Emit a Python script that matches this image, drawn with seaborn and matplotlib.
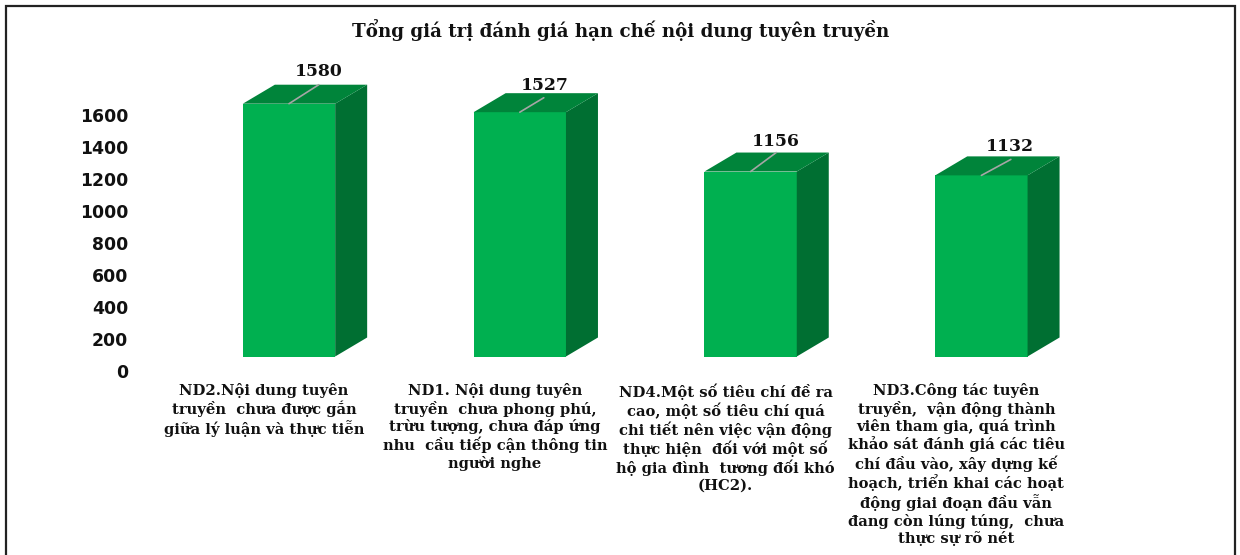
import matplotlib
matplotlib.use("Agg")
import matplotlib.pyplot as plt
from matplotlib.patches import Polygon, Rectangle
from matplotlib.transforms import ScaledTranslation
import seaborn as sns

categories = [
    "ND2.Nội dung tuyên\ntruyền  chưa được gắn\ngiữa lý luận và thực tiễn",
    "ND1. Nội dung tuyên\ntruyền  chưa phong phú,\ntrừu tượng, chưa đáp ứng\nnhu  cầu tiếp cận thông tin\nngười nghe",
    "ND4.Một số tiêu chí đề ra\ncao, một số tiêu chí quá\nchi tiết nên việc vận động\nthực hiện  đối với một số\nhộ gia đình  tương đối khó\n(HC2).",
    "ND3.Công tác tuyên\ntruyền,  vận động thành\nviên tham gia, quá trình\nkhảo sát đánh giá các tiêu\nchí đầu vào, xây dựng kế\nhoạch, triển khai các hoạt\nđộng giai đoạn đầu vẫn\nđang còn lúng túng,  chưa\nthực sự rõ nét",
]
values = [1580, 1527, 1156, 1132]
y_ticks = [0, 200, 400, 600, 800, 1000, 1200, 1400, 1600]
title = "Tổng giá trị đánh giá hạn chế nội dung tuyên truyền"

W, H = 1240, 555
FRONT, TOP, SIDE = "#00B050", "#00843A", "#006F32"
SERIF = "DejaVu Serif"

sns.set_theme(style="white")
fig = plt.figure(figsize=(W / 100, H / 100), dpi=100)
fig.patch.set_facecolor("white")

ax_left, ax_right = 173.6, 1096.8
ax_bottom_px, ax_top_px = 356.5, 68.5
ax = fig.add_axes([ax_left / W, 1 - ax_bottom_px / H,
                   (ax_right - ax_left) / W, (ax_bottom_px - ax_top_px) / H])

sns.barplot(x=categories, y=values, color=FRONT, saturation=1, width=0.4, ax=ax, linewidth=0)
ax.set_xlim(-0.5, 3.5)
ax.set_ylim(0, 1800)
sns.despine(ax=ax, left=True, bottom=True)

# 3D depth of the columns, derived from the bars themselves
DX = 32 / 230.8
DY = 19 / 0.16
leader_reach = [(0.93, 1.0), (0.75, 0.76), (0.8, 1.0), (0.92, 0.84)]
for bar, (rx, ry) in zip(ax.patches[:4], leader_reach):
    x0, x1 = bar.get_x(), bar.get_x() + bar.get_width()
    h = bar.get_height()
    ax.add_patch(Polygon([(x1, 0), (x1 + DX, DY), (x1 + DX, h + DY), (x1, h)],
                         closed=True, fc=SIDE, ec="none", clip_on=False))
    ax.add_patch(Polygon([(x0, h), (x0 + DX, h + DY), (x1 + DX, h + DY), (x1, h)],
                         closed=True, fc=TOP, ec="none", clip_on=False))
    xc = (x0 + x1) / 2
    ax.plot([xc, xc + DX * rx], [h, h + DY * ry], color="#A6A6A6", lw=1.2, clip_on=False)

# value labels
label_offsets = [(30, -32), (25, -27), (25, -30), (28, -28.5)]
for i, (v, (ox, oy)) in enumerate(zip(values, label_offsets)):
    ax.annotate(str(v), (i, v), xytext=(ox * 0.72, -oy * 0.72), textcoords="offset points",
                ha="center", va="center", fontsize=12.4, fontweight="bold",
                family=SERIF, color="#111111", annotation_clip=False)

# y axis, drawn below the column base as in the 3D view
ax.set_yticks(y_ticks)
ax.set_yticklabels([str(t) for t in y_ticks])
ax.tick_params(axis="y", length=0, pad=45.6 * 0.72, labelsize=12.4)
ytrans = ScaledTranslation(0, -14.3 / 100, fig.dpi_scale_trans)
for lab in ax.get_yticklabels():
    lab.set_transform(lab.get_transform() + ytrans)
    lab.set_fontweight("bold")
    lab.set_family("DejaVu Sans")
    lab.set_color("#111111")

# category labels
ax.tick_params(axis="x", length=0, pad=26.5 * 0.72)
xtrans = ScaledTranslation(-25 / 100, 0, fig.dpi_scale_trans)
for lab in ax.get_xticklabels():
    lab.set_transform(lab.get_transform() + xtrans)
    lab.set_fontsize(10.6)
    lab.set_fontweight("bold")
    lab.set_family(SERIF)
    lab.set_linespacing(1.2)
    lab.set_color("#111111")
    lab.set_ha("center")
    lab.set_va("top")

fig.text(621 / W, 1 - 30 / H, title, ha="center", va="center",
         fontsize=13.15, fontweight="bold", family=SERIF, color="#111111")

# outer frame, open past the bottom edge of the image
fig.add_artist(Rectangle((6 / W, -0.02), (1235 - 6) / W, 1.02 - 6 / H,
                         transform=fig.transFigure, fill=False, ec="#222222", lw=1.6))

fig.savefig("out.png", dpi=100, facecolor="white")
